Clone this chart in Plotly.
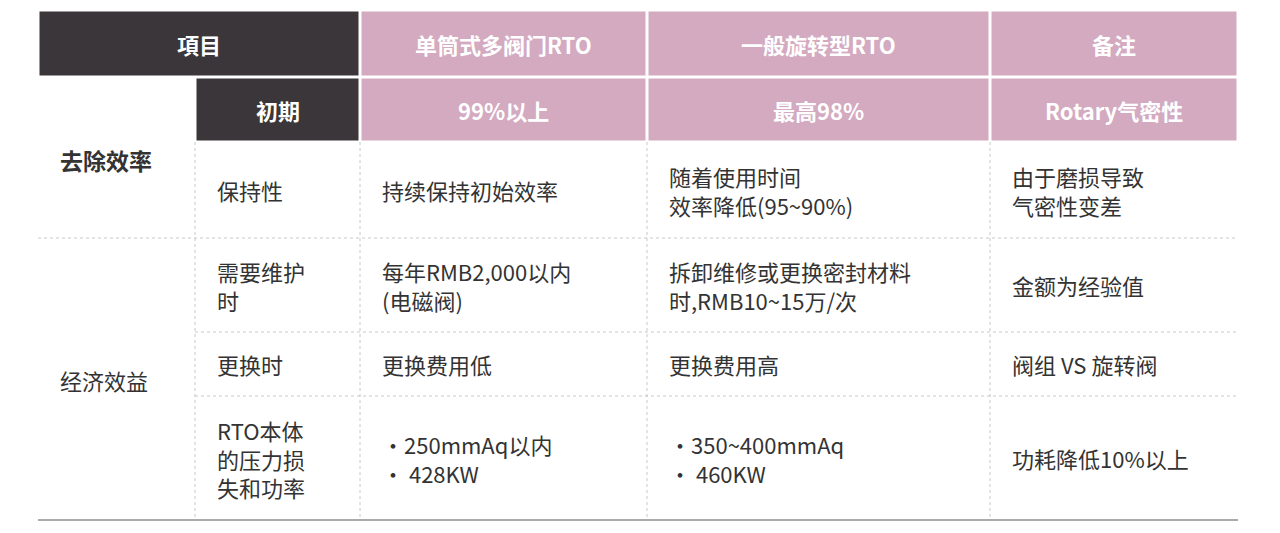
import plotly.graph_objects as go

FONT = "Noto Sans CJK SC"
DARK = "#3a3639"
PINK = "#d3aac0"
TEXT = "#333333"
GRID = "#c8c8c8"

# column edges (px) and row edges (px)
col_edges = [38, 195, 360, 647, 990, 1238]
row_edges = [10, 77, 142, 238, 332, 396, 520]

header_labels = ["項目", "单筒式多阀门RTO", "一般旋转型RTO", "备注"]
initial_label = "初期"
initial_values = ["99%以上", "最高98%", "Rotary气密性"]

group_labels = ["去除效率", "经济效益"]
item_labels = ["保持性", "需要维护<br>时", "更换时", "RTO本体<br>的压力损<br>失和功率"]
col1_values = ["持续保持初始效率", "每年RMB2,000以内<br>(电磁阀)", "更换费用低",
               "•250mmAq以内<br>• 428KW"]
col2_values = ["随着使用时间<br>效率降低(95~90%)", "拆卸维修或更换密封材料<br>时,RMB10~15万/次",
               "更换费用高", "•350~400mmAq<br>• 460KW"]
col3_values = ["由于磨损导致<br>气密性变差", "金额为经验值", "阀组 VS 旋转阀", "功耗降低10%以上"]

fig = go.Figure()
shapes = []
ann = []
gap = 1.5


def box(x0, x1, y0, y1, color):
    shapes.append(dict(type="rect", x0=x0 + gap, x1=x1 - gap, y0=y0 + gap, y1=y1 - gap,
                       fillcolor=color, line=dict(width=0), layer="below"))


def label(x, y, text, color=TEXT, size=22, bold=False, align="left", xanchor="left"):
    if bold:
        text = "<b>" + text + "</b>"
    ann.append(dict(x=x, y=y, text=text, showarrow=False, xanchor=xanchor, yanchor="middle",
                    align=align, font=dict(family=FONT, size=size, color=color)))


# header row
box(col_edges[0], col_edges[2], row_edges[0], row_edges[1], DARK)
label((col_edges[0] + col_edges[2]) / 2, (row_edges[0] + row_edges[1]) / 2, header_labels[0],
      "white", 22, True, "center", "center")
for i in range(3):
    x0, x1 = col_edges[i + 2], col_edges[i + 3]
    box(x0, x1, row_edges[0], row_edges[1], PINK)
    label((x0 + x1) / 2, (row_edges[0] + row_edges[1]) / 2, header_labels[i + 1],
          "white", 22, True, "center", "center")

# initial row
box(col_edges[1], col_edges[2], row_edges[1], row_edges[2], DARK)
label((col_edges[1] + col_edges[2]) / 2, (row_edges[1] + row_edges[2]) / 2, initial_label,
      "white", 22, True, "center", "center")
for i, v in enumerate(initial_values):
    x0, x1 = col_edges[i + 2], col_edges[i + 3]
    box(x0, x1, row_edges[1], row_edges[2], PINK)
    label((x0 + x1) / 2, (row_edges[1] + row_edges[2]) / 2, v, "white", 22, True, "center", "center")

# group labels
label(58, 160, group_labels[0], TEXT, 23, True)
label(58, 380, group_labels[1], TEXT, 22)

# body rows
for r in range(4):
    y0, y1 = row_edges[r + 2], row_edges[r + 3]
    yc = (y0 + y1) / 2
    label(col_edges[1] + 20, yc, item_labels[r])
    label(col_edges[2] + 20, yc, col1_values[r])
    label(col_edges[3] + 20, yc, col2_values[r])
    label(col_edges[4] + 20, yc, col3_values[r])

# dashed grid
dash = dict(color=GRID, width=1, dash="dot")
for x in col_edges[1:5]:
    shapes.append(dict(type="line", x0=x, x1=x, y0=row_edges[2], y1=row_edges[6], line=dash))
shapes.append(dict(type="line", x0=col_edges[0], x1=col_edges[5], y0=row_edges[3], y1=row_edges[3], line=dash))
for y in row_edges[4:6]:
    shapes.append(dict(type="line", x0=col_edges[1], x1=col_edges[5], y0=y, y1=y, line=dash))
shapes.append(dict(type="line", x0=col_edges[0], x1=col_edges[5], y0=row_edges[6], y1=row_edges[6],
                   line=dict(color="#aaaaaa", width=2)))

# page has an 8px body margin, so shift the axis window to compensate
fig.update_layout(
    width=1280, height=533,
    margin=dict(l=0, r=0, t=0, b=0),
    paper_bgcolor="white", plot_bgcolor="white",
    xaxis=dict(range=[8, 1288], visible=False, fixedrange=True),
    yaxis=dict(range=[541, 8], visible=False, fixedrange=True),
    shapes=shapes, annotations=ann, showlegend=False,
)

fig.write_html("out.html")
